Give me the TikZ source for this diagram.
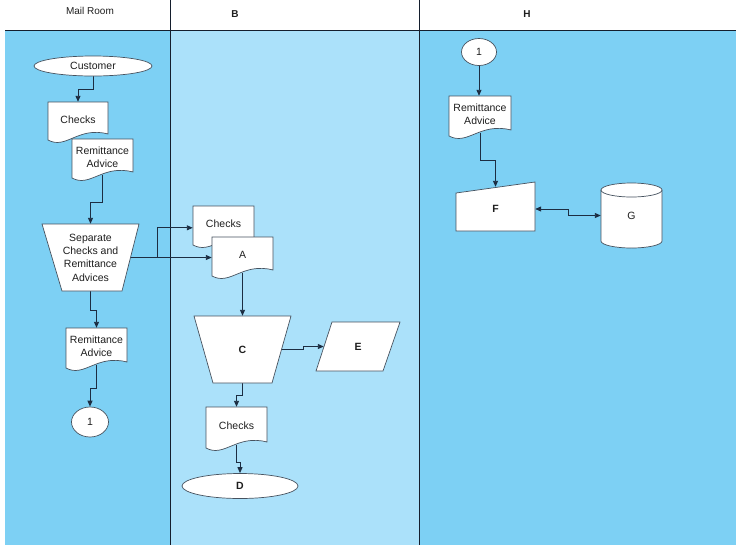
\documentclass[tikz,border=0pt]{standalone}
\usepackage{fontspec}
\setmainfont{Liberation Sans}
\usetikzlibrary{shapes.geometric,arrows.meta,calc}
\definecolor{laneA}{RGB}{125,208,244}
\definecolor{laneB}{RGB}{171,225,250}
\definecolor{edgecol}{RGB}{28,45,66}
\definecolor{outlinecol}{RGB}{70,82,95}
\definecolor{dividercol}{RGB}{20,30,45}
\definecolor{textcol}{RGB}{30,30,30}
\pgfdeclarelayer{lanes}\pgfdeclarelayer{edges}
\pgfsetlayers{lanes,edges,main}
\tikzset{
  shp/.style={draw=outlinecol, fill=white, line width=0.7pt},
  txt/.style={font=\fontsize{10.5}{13.3}\selectfont, text=textcol, align=center, inner sep=0pt},
  conn/.style={draw=edgecol, line width=0.9pt, -{Triangle[length=6pt,width=5pt]}},
  bconn/.style={draw=edgecol, line width=0.9pt, {Triangle[length=6pt,width=5pt]}-{Triangle[length=6pt,width=5pt]}},
  divider/.style={draw=dividercol, line width=0.9pt}
}
\newcommand{\flowdoc}[6]{%
  \draw[shp] (#2,#3) -- (#4,#3) -- (#4,#5-6) .. controls ({#2+0.5*(#4-#2)},#5-14) and ({#2+0.3*(#4-#2)},#5+10) .. (#2,#5) -- cycle;
  \node[txt, minimum width={#4-#2}, minimum height={#5-3-#3}] (#1) at ({(#2+#4)/2},{(#3+#5-3)/2}) {#6};}
\begin{document}
\begin{tikzpicture}[x=1pt,y=-1pt]
\useasboundingbox (0,0) rectangle (744,550);
\begin{pgfonlayer}{lanes}
  \fill[laneA] (5,30) rectangle (170,545);
  \fill[laneB] (170,30) rectangle (419,545);
  \fill[laneA] (419,30) rectangle (736,545);
  \draw[divider] (5,30) -- (736,30);
  \draw[divider] (170,0) -- (170,545);
  \draw[divider] (419,0) -- (419,545);
\end{pgfonlayer}
% headers
\node[txt, font=\fontsize{10}{12}\selectfont] (hmail) at (90,11) {Mail Room};
\node[txt, font=\fontsize{10}{12}\selectfont\bfseries] (hb) at (235,14) {B};
\node[txt, font=\fontsize{10}{12}\selectfont\bfseries] (hh) at (527,14) {H};
% Mail room lane
\node[ellipse, shp, txt, minimum width=118, minimum height=20] (cust) at (93,66) {Customer};
\flowdoc{chk1}{48}{102}{108}{140}{Checks}
\flowdoc{rem1}{72}{139}{133}{178}{Remittance\\Advice}
\draw[shp] (42,224) -- (139,224) -- (122,291) -- (62,291) -- cycle;
\node[txt, minimum width=97, minimum height=67] (sep) at (90.5,257.5) {Separate\\Checks and\\Remittance\\Advices};
\flowdoc{rem2}{66}{328}{127}{368}{Remittance\\Advice}
\node[ellipse, shp, txt, minimum width=37, minimum height=30] (c1) at (90,422) {1};
% B lane
\flowdoc{chk2}{193}{206}{254}{245}{Checks}
\flowdoc{A}{212}{237}{273}{276}{A}
\draw[shp] (194,316) -- (291,316) -- (272,383) -- (213,383) -- cycle;
\node[txt, minimum width=97, minimum height=67, font=\fontsize{10.5}{13}\selectfont\bfseries] (C) at (242.5,349.5) {C};
\draw[shp] (332,322) -- (400,322) -- (383,371) -- (316,371) -- cycle;
\node[txt, minimum width=84, minimum height=49, font=\fontsize{10.5}{13}\selectfont\bfseries] (E) at (358,346.5) {E};
\flowdoc{chk3}{206}{407}{267}{448}{Checks}
\node[ellipse, shp, txt, minimum width=116, minimum height=25, font=\fontsize{10.5}{13}\selectfont\bfseries] (D) at (240,486) {D};
% H lane
\node[ellipse, shp, txt, minimum width=35, minimum height=27] (c2) at (479,52) {1};
\flowdoc{rem3}{449}{96}{511}{136}{Remittance\\Advice}
\draw[shp] (456,193) -- (535,182) -- (535,231) -- (456,231) -- cycle;
\node[txt, minimum width=79, minimum height=44, font=\fontsize{10.5}{13}\selectfont\bfseries] (F) at (495.5,209) {F};
\draw[shp] (601,190) -- (601,241) arc[start angle=180, end angle=360, x radius=30.5pt, y radius=7pt] -- (662,190) arc[start angle=0, end angle=180, x radius=30.5pt, y radius=7pt] -- cycle;
\draw[draw=outlinecol, line width=0.7pt] (601,190) arc[start angle=180, end angle=360, x radius=30.5pt, y radius=7pt];
\node[txt, minimum width=61, minimum height=65] (G) at (631.5,215.5) {G};
% connectors
\begin{pgfonlayer}{edges}
  \draw[conn] (cust.south) -- ++(0,13) -| (chk1.north);
  \draw[conn] (rem1.south) -- ++(0,27) -| (sep.north);
  \draw[conn] ($(sep.east)+(-9,0)$) -- ++(27,0) |- ($(chk2.north west)+(0,22)$);
  \draw[conn] ($(sep.east)+(-9,0)$) -- (sep.east -| A.west);
  \draw[conn] (sep.south) -- ++(0,19) -| (rem2.north);
  \draw[conn] (rem2.south) -- ++(0,23) -| (c1.north);
  \draw[conn] (A.south) -- (C.north);
  \draw[conn] ($(C.east)+(-9,0)$) -- ++(21,0) |- ($(E.west)+(8,0)$);
  \draw[conn] (C.south) -- ++(0,12) -| (chk3.north);
  \draw[conn] (chk3.south) -- ++(0,17) -| (D.north);
  \draw[conn] (c2.south) -- (c2.south |- rem3.north);
  \draw[conn] (rem3.south) -- ++(0,27) -| (F.north);
  \draw[bconn] (F.east) -- ++(33,0) |- (G.west);
\end{pgfonlayer}
\end{tikzpicture}
\end{document}
